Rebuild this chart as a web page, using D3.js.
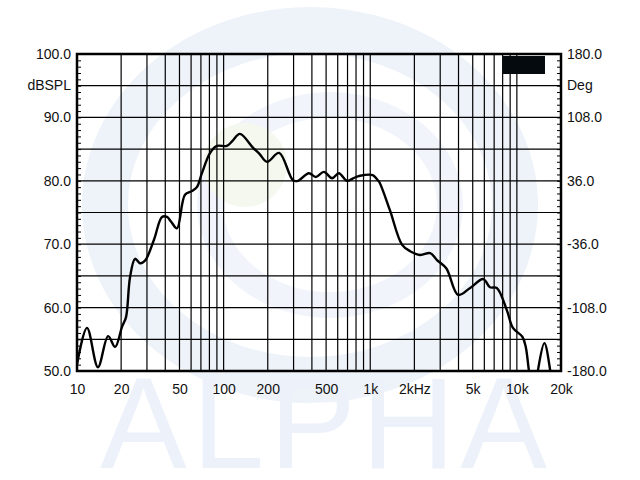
<!DOCTYPE html>
<html>
<head>
<meta charset="utf-8">
<script src="https://cdn.jsdelivr.net/npm/d3@7"></script>
<style>
  body { margin: 0; background: #fff; }
  svg text { font-family: "Liberation Sans", Arial, sans-serif; fill: #111; }
</style>
</head>
<body>
<div id="chart"></div>
<script>
// response curve values
var freqs = [10, 11.7, 13.9, 16.3, 18.2, 20.3, 21.6, 23, 24.9, 26.9, 29.1, 33.5, 38, 41.1, 44, 48.1,
  54.5, 60.9, 65.7, 71.1, 80.9, 90, 105, 115, 129, 159, 175, 198, 239, 297, 322, 381, 426, 483,
  549, 611, 694, 764, 852, 1040, 1126, 1160, 1360, 1650, 1870, 2190, 2560, 2850, 3300, 3980,
  4800, 5900, 6560, 7300, 8540, 9400, 10900, 11500, 12100, 12800, 13400, 13900, 15400, 16900, 17500];
var splValues = [51.0, 56.8, 50.6, 55.5, 53.8, 57.0, 58.5, 64.8, 67.7, 67.0, 67.4, 70.7, 74.3, 74.3, 73.5, 72.5,
  77.8, 78.4, 79.0, 81.2, 84.4, 85.5, 85.5, 86.3, 87.4, 85.2, 84.3, 83.0, 84.4, 80.1, 80.0, 81.2, 80.6, 81.4,
  80.4, 81.2, 80.0, 80.4, 80.8, 80.9, 80.1, 79.7, 75.4, 69.9, 68.9, 68.3, 68.6, 67.5, 66.2, 62.0,
  63.1, 64.5, 63.2, 63.1, 59.6, 56.8, 55.4, 53.8, 50.0, 47.0, 47.0, 50.0, 54.4, 50.0, 47.0];

var gridFreqs = [10, 20, 30, 40, 50, 60, 70, 80, 90, 100, 200, 300, 400, 500, 600, 700, 800, 900,
  1000, 2000, 3000, 4000, 5000, 6000, 7000, 8000, 9000, 10000, 20000];
var xTickValues = [10, 20, 50, 100, 200, 500, 1000, 2000, 5000, 10000, 20000];
var xTickLabels = ["10", "20", "50", "100", "200", "500", "1k", "2kHz", "5k", "10k", "20k"];
var leftTicks = [50, 60, 70, 80, 90, 100];
var leftLabels = ["50.0", "60.0", "70.0", "80.0", "90.0", "100.0"];
var rightTicks = [-180, -108, -36, 36, 108, 180];
var rightLabels = ["-180.0", "-108.0", "-36.0", "36.0", "108.0", "180.0"];

var data = freqs.map((f, i) => ({f: f, db: splValues[i]}));

var margin = {top: 54, right: 79, bottom: 109, left: 77};
var width = 640, height = 480;
var chartWidth = width - margin.left - margin.right;
var chartHeight = height - margin.top - margin.bottom;

var svg = d3.select("#chart").append("svg")
  .attr("width", width)
  .attr("height", height);

// faint logo watermark
var wm = svg.append("g").attr("class", "watermark");
wm.append("ellipse")
  .attr("cx", 310).attr("cy", 205).attr("rx", 205).attr("ry", 175)
  .attr("fill", "none").attr("stroke", "#eef3fa").attr("stroke-width", 46);
wm.append("ellipse")
  .attr("cx", 330).attr("cy", 205).attr("rx", 120).attr("ry", 100)
  .attr("fill", "none").attr("stroke", "#f1f5fb").attr("stroke-width", 26);
wm.append("circle")
  .attr("cx", 245).attr("cy", 165).attr("r", 42)
  .attr("fill", "#f5f8ee");
wm.append("text")
  .attr("x", 100).attr("y", 468)
  .attr("textLength", 447)
  .attr("lengthAdjust", "spacing")
  .style("font-size", "130px")
  .style("fill", "#edf2fa")
  .text("ALPHA");

var g = svg.append("g")
  .attr("transform", `translate(${margin.left}, ${margin.top})`);

var xScale = d3.scaleLog()
  .domain([10, 20000])
  .range([0, chartWidth]);
var yScale = d3.scaleLinear()
  .domain([50, 100])
  .range([chartHeight, 0]);
var yRight = d3.scaleLinear()
  .domain([-180, 180])
  .range([chartHeight, 0]);

// grid
g.append("g").attr("class", "grid")
  .selectAll("line.v")
  .data(gridFreqs)
  .enter()
  .append("line")
  .attr("x1", d => xScale(d)).attr("x2", d => xScale(d))
  .attr("y1", 0).attr("y2", chartHeight)
  .attr("stroke", "#000").attr("stroke-width", 1.2);

g.append("g").attr("class", "grid")
  .selectAll("line.h")
  .data(d3.range(55, 100, 5))
  .enter()
  .append("line")
  .attr("x1", 0).attr("x2", chartWidth)
  .attr("y1", d => yScale(d)).attr("y2", d => yScale(d))
  .attr("stroke", "#000").attr("stroke-width", 1.2);

// minor ticks on left and right edges, pointing inward
var yAxisL = d3.axisRight(yScale).tickValues(d3.range(50, 101, 1)).tickSize(4).tickFormat("");
var yAxisR = d3.axisLeft(yScale).tickValues(d3.range(50, 101, 1)).tickSize(4).tickFormat("");
g.append("g").call(yAxisL).call(s => s.select(".domain").remove());
g.append("g").attr("transform", `translate(${chartWidth},0)`).call(yAxisR).call(s => s.select(".domain").remove());

// curve
svg.append("clipPath").attr("id", "plotclip")
  .append("rect").attr("x", 0).attr("y", 0).attr("width", chartWidth).attr("height", chartHeight);

var line = d3.line()
  .x(d => xScale(d.f))
  .y(d => yScale(d.db))
  .curve(d3.curveCatmullRom.alpha(0.5));

g.append("path")
  .datum(data)
  .attr("clip-path", "url(#plotclip)")
  .attr("fill", "none")
  .attr("stroke", "#000")
  .attr("stroke-width", 2.4)
  .attr("stroke-linejoin", "round")
  .attr("d", line);

// legend swatch
g.append("rect")
  .attr("x", chartWidth - 58).attr("y", 2)
  .attr("width", 42).attr("height", 18)
  .attr("fill", "#050a0f");

// frame
g.append("rect")
  .attr("x", 0).attr("y", 0)
  .attr("width", chartWidth).attr("height", chartHeight)
  .attr("fill", "none").attr("stroke", "#000").attr("stroke-width", 2.5);

// labels
var xAxis = d3.axisBottom(xScale)
  .tickValues(xTickValues)
  .tickSize(0)
  .tickPadding(13)
  .tickFormat((d, i) => xTickLabels[i]);
g.append("g")
  .attr("transform", `translate(0,${chartHeight})`)
  .call(xAxis)
  .call(s => s.select(".domain").remove())
  .selectAll("text").style("font-size", "14px").attr("fill", "#111");

var yAxis = d3.axisLeft(yScale)
  .tickValues(leftTicks)
  .tickSize(0)
  .tickPadding(6)
  .tickFormat((d, i) => leftLabels[i]);
g.append("g")
  .call(yAxis)
  .call(s => s.select(".domain").remove())
  .selectAll("text").style("font-size", "14px").attr("fill", "#111");

var rAxis = d3.axisRight(yRight)
  .tickValues(rightTicks)
  .tickSize(0)
  .tickPadding(6)
  .tickFormat((d, i) => rightLabels[i]);
g.append("g")
  .attr("transform", `translate(${chartWidth},0)`)
  .call(rAxis)
  .call(s => s.select(".domain").remove())
  .selectAll("text").style("font-size", "14px").attr("fill", "#111");

g.append("text")
  .attr("x", -6).attr("y", yScale(95)).attr("dy", "0.32em")
  .attr("text-anchor", "end")
  .style("font-size", "14px")
  .text("dBSPL");
g.append("text")
  .attr("x", chartWidth + 6).attr("y", yScale(95)).attr("dy", "0.32em")
  .style("font-size", "14px")
  .text("Deg");
</script>
</body>
</html>
